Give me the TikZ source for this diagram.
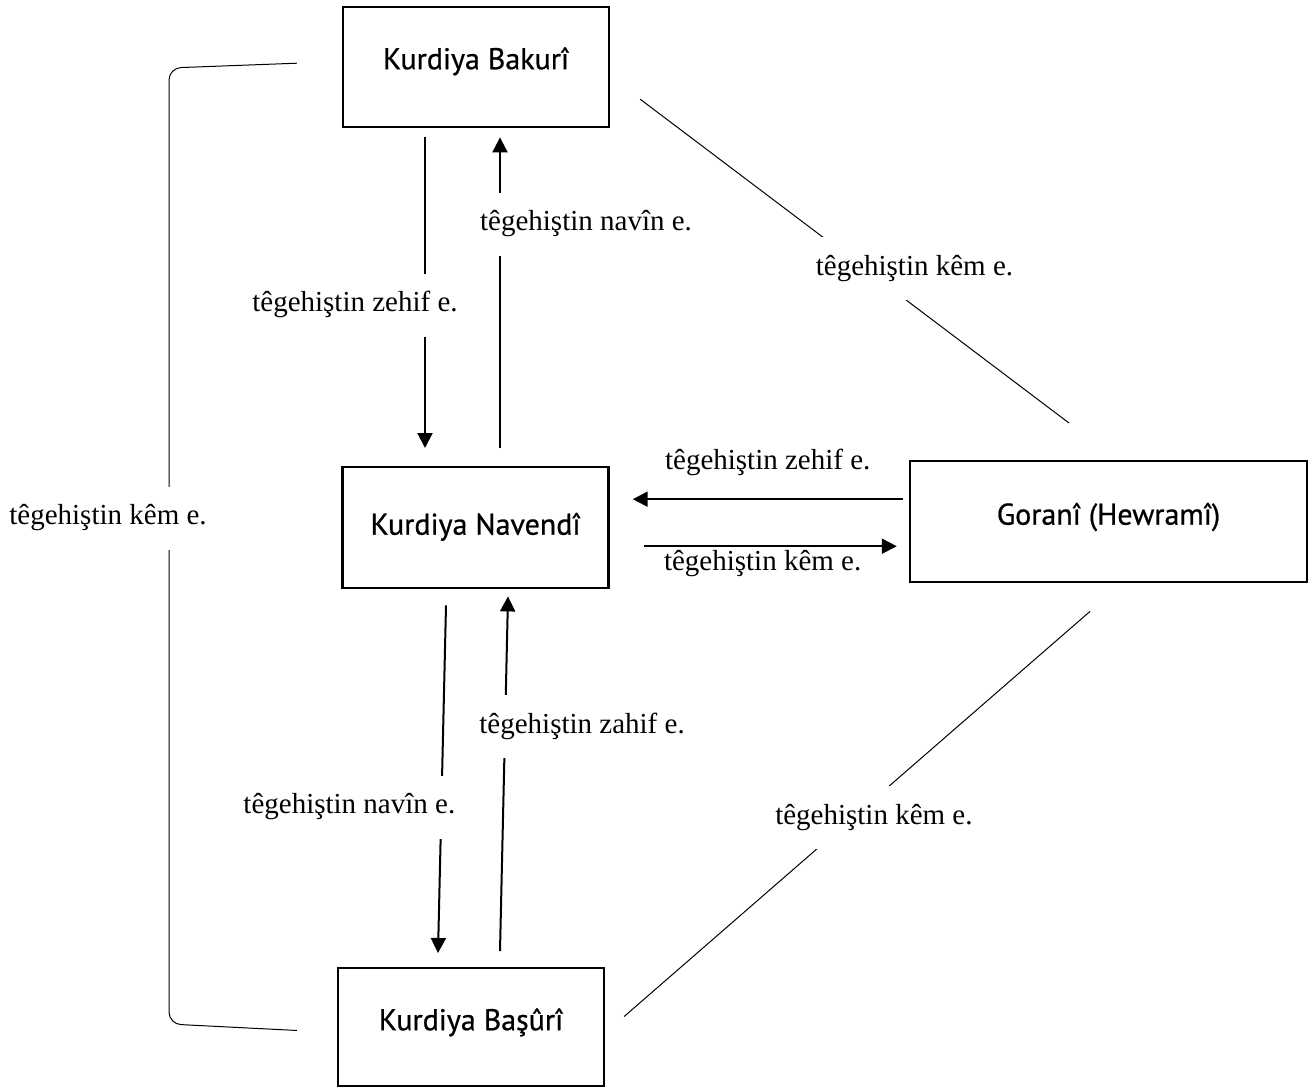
\documentclass[tikz,border=0pt]{standalone}
\usepackage{fontspec}
\setmainfont{Liberation Serif}
\newfontfamily\boxfont[FakeBold=0.7]{PT Sans}
\usetikzlibrary{arrows.meta,calc}

\begin{document}
\begin{tikzpicture}[x=0.5pt, y=-0.5pt,
    langbox/.style={draw, line width=1.2pt, anchor=north,
      font=\boxfont\fontsize{15}{18}\selectfont, inner sep=0,
      text height=31pt, text depth=29pt, minimum width=133pt},
    lbl/.style={font=\fontsize{14.5}{17}\selectfont, inner sep=1pt},
    cut/.style={lbl, fill=white, text height=10pt, text depth=3.5pt,
      inner ysep=9pt, inner xsep=2pt},
    arr/.style={line width=1pt, -{Triangle[length=7.5pt,width=7.5pt]}},
    link/.style={line width=0.5pt}]
  \useasboundingbox (0,0) rectangle (1312,1087);

  % language boxes
  \node[langbox] (bakuri) at (476,6) {Kurdiya Bakurî};
  \node[langbox, text height=33.75pt, text depth=26.75pt] (navendi)
    at (475.5,466) {Kurdiya Navendî};
  \node[langbox, text height=31.75pt, text depth=28.75pt,
    minimum width=198.5pt] (gorani) at (1108.5,460) {Goranî (Hewramî)};
  \node[langbox, text depth=27.75pt] (basuri) at (471,967) {Kurdiya Başûrî};

  % bakuri <-> navendi
  \draw[arr] ($(bakuri.south)+(-51,9)$) -- node[cut, pos=0.54, xshift=-35pt]
    (zehif1) {têgehiştin zehif e.} ($(navendi.north)+(-50.5,-18)$);
  \draw[arr] ($(navendi.north)+(24.5,-18)$) -- node[cut, pos=0.72, xshift=43pt]
    (navin1) {têgehiştin navîn e.} ($(bakuri.south)+(24,9)$);

  % navendi <-> basuri
  \draw[arr] ($(navendi.south)+(-29.5,16)$) -- node[cut, pos=0.58, xshift=-46pt]
    (navin2) {têgehiştin navîn e.} ($(basuri.north)+(-33,-14)$);
  \draw[arr] ($(basuri.north)+(29,-16)$) -- node[cut, pos=0.633, xshift=38.5pt]
    (zahif) {têgehiştin zahif e.} ($(navendi.south)+(32.5,7)$);

  % gorani <-> navendi
  \draw[arr] ($(gorani.west)+(-6,-22.5)$) -- node[lbl, above=10pt]
    (zehif2) {têgehiştin zehif e.} ($(navendi.east)+(23,-28.5)$);
  \draw[arr] ($(navendi.east)+(34,18.5)$) -- node[lbl, below=0.5pt, pos=0.47]
    (kem1) {têgehiştin kêm e.} ($(gorani.west)+(-12,24.5)$);

  % kem links
  \draw[link] ($(bakuri.east)+(30,32)$) -- node[cut, pos=0.523, xshift=25pt]
    (kem2) {têgehiştin kêm e.} ($(gorani.north)+(-39.5,-37)$);
  \draw[link] ($(gorani.south)+(-18.5,28)$) -- node[cut, pos=0.509, xshift=10.5pt]
    (kem3) {têgehiştin kêm e.} ($(basuri.east)+(19,-10.5)$);
  \draw[link, rounded corners=6pt] ($(bakuri.west)+(-45,-4)$) -- (169,68)
    -- node[cut, pos=0.471, xshift=-30.5pt] (kem4) {têgehiştin kêm e.} (169,1024)
    -- ($(basuri.west)+(-40,3.5)$);
\end{tikzpicture}
\end{document}
